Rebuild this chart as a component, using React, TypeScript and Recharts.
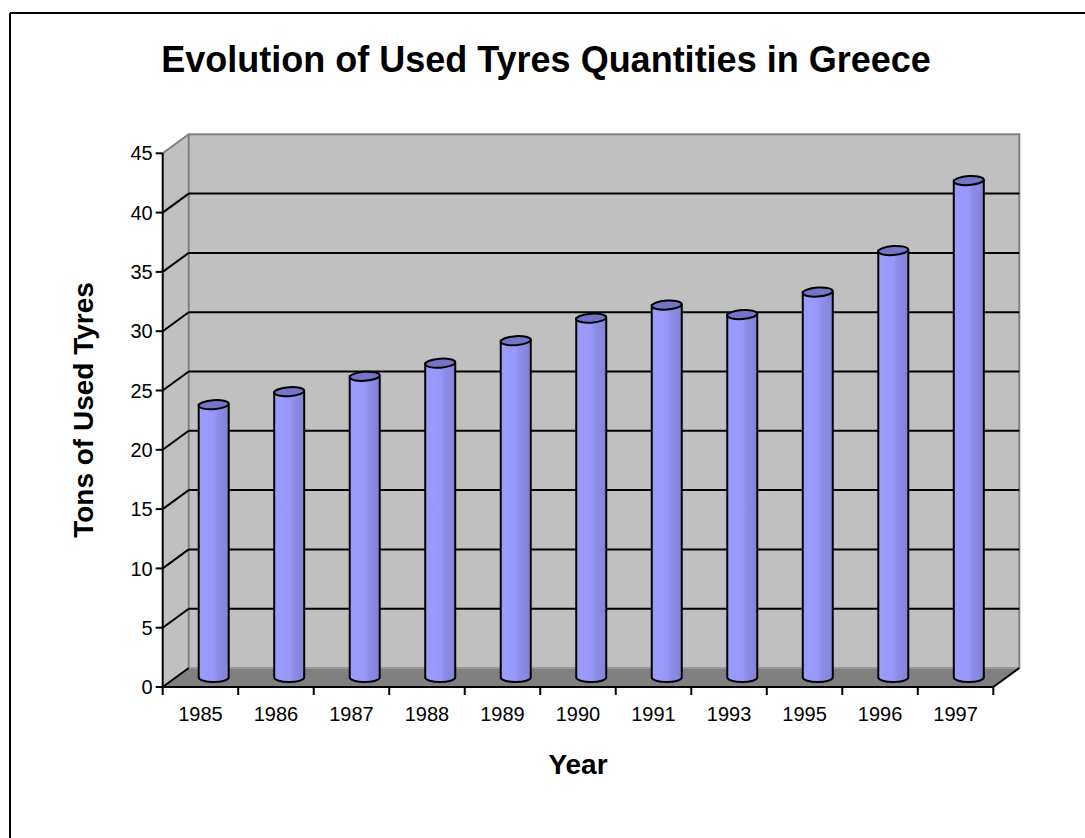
import React from 'react';
import { BarChart, Bar, XAxis, YAxis, ReferenceArea, ReferenceLine } from 'recharts';

const YEARS = ['1985', '1986', '1987', '1988', '1989', '1990', '1991', '1993', '1995', '1996', '1997'];
const TONS = [23, 24.1, 25.4, 26.5, 28.4, 30.3, 31.4, 30.6, 32.5, 36, 41.9];
const Y_TICKS = [0, 5, 10, 15, 20, 25, 30, 35, 40, 45];
const GRID_VALUES = [5, 10, 15, 20, 25, 30, 35, 40];

const FONT = '"Liberation Sans", Arial, sans-serif';
// depth of the 3d box: back wall is shifted right and up from the front plane
const DX = 26;
const DY = -19;

const data = YEARS.map((year, i) => ({ year, tons: TONS[i] }));

// side wall, back wall, floor and the category ticks under the floor edge
const renderWalls = (props: any) => {
  const { x, y, width, height } = props;
  const bottom = y + height;
  const right = x + width;
  const n = YEARS.length;
  return (
    <g>
      <polygon
        points={`${x},${y} ${x + DX},${y + DY} ${x + DX},${bottom + DY} ${x},${bottom}`}
        fill="#c0c0c0"
      />
      <rect x={x + DX} y={y + DY} width={width} height={height} fill="#c0c0c0" stroke="#808080" strokeWidth={2} />
      <polygon
        points={`${x},${bottom} ${x + DX},${bottom + DY} ${right + DX},${bottom + DY} ${right},${bottom}`}
        fill="#808080"
      />
      <line x1={x + DX} y1={bottom + DY} x2={right + DX} y2={bottom + DY} stroke="#a0a0a0" strokeWidth={1.5} />
      <line x1={x} y1={y} x2={x + DX} y2={y + DY} stroke="#808080" strokeWidth={2} />
      <line x1={x} y1={bottom} x2={x + DX} y2={bottom + DY} stroke="#000" strokeWidth={2} />
      <line x1={right} y1={bottom} x2={right + DX} y2={bottom + DY} stroke="#000" strokeWidth={2} />
      <line x1={x} y1={bottom} x2={right} y2={bottom} stroke="#000" strokeWidth={2} />
      {Array.from({ length: n + 1 }, (_, i) => (
        <line
          key={i}
          x1={x + (i * width) / n}
          y1={bottom}
          x2={x + (i * width) / n}
          y2={bottom + 8}
          stroke="#000"
          strokeWidth={2}
        />
      ))}
    </g>
  );
};

// gridline on the back wall plus its diagonal across the side wall
const renderGridLine = (props: any) => {
  const { x1, y1, x2 } = props;
  return (
    <g>
      <line x1={x1} y1={y1} x2={x1 + DX} y2={y1 + DY} stroke="#000" strokeWidth={2} />
      <line x1={x1 + DX} y1={y1 + DY} x2={x2 + DX} y2={y1 + DY} stroke="#000" strokeWidth={2} />
    </g>
  );
};

// cylinder sitting halfway into the depth of the box
const Cylinder = (props: any) => {
  const { x, y, width, height, index } = props;
  if (!height) return null;
  const cx = x + width / 2 + DX / 2;
  const top = y + DY / 2;
  const bottom = y + height + DY / 2;
  const rx = width / 2;
  const ry = 4.5;
  const left = cx - rx;
  const right = cx + rx;
  const gid = `cyl-${index}`;
  return (
    <g>
      <defs>
        <linearGradient id={gid} x1="0" y1="0" x2="1" y2="0">
          <stop offset="0%" stopColor="#9c9cff" />
          <stop offset="50%" stopColor="#9898fa" />
          <stop offset="62%" stopColor="#8e8eea" />
          <stop offset="100%" stopColor="#8282d6" />
        </linearGradient>
      </defs>
      <path
        d={`M${left},${top} L${left},${bottom} A${rx},${ry} 0 0 0 ${right},${bottom} L${right},${top} Z`}
        fill={`url(#${gid})`}
        stroke="#000"
        strokeWidth={2}
      />
      <ellipse
        cx={cx}
        cy={top}
        rx={rx}
        ry={ry}
        transform={`rotate(-4 ${cx} ${top})`}
        fill="#7474c8"
        stroke="#000"
        strokeWidth={2}
      />
    </g>
  );
};

export default function App() {
  return (
    <div style={{ position: 'absolute', left: 0, top: 0, width: 1085, height: 838, background: '#fff' }}>
      <svg width={1085} height={838} style={{ position: 'absolute', left: 0, top: 0 }}>
        <line x1={10} y1={13} x2={1085} y2={13} stroke="#000" strokeWidth={2} />
        <line x1={10} y1={13} x2={10} y2={838} stroke="#000" strokeWidth={2} />
        <text x={546} y={72} textAnchor="middle" fontFamily={FONT} fontSize={36} fontWeight="bold" fill="#000">
          Evolution of Used Tyres Quantities in Greece
        </text>
        <text
          x={93}
          y={410}
          transform="rotate(-90 93 410)"
          textAnchor="middle"
          fontFamily={FONT}
          fontSize={28}
          fontWeight="bold"
          fill="#000"
        >
          Tons of Used Tyres
        </text>
        <text x={578} y={774} textAnchor="middle" fontFamily={FONT} fontSize={28} fontWeight="bold" fill="#000">
          Year
        </text>
      </svg>
      <div style={{ position: 'absolute', left: 0, top: 0 }}>
        <BarChart
          width={1085}
          height={838}
          data={data}
          margin={{ top: 153.3, right: 91.7, bottom: 121, left: 102.7 }}
        >
          <ReferenceArea y1={0} y2={45} shape={renderWalls} zIndex={-20} />
          {GRID_VALUES.map((v) => (
            <ReferenceLine key={v} y={v} shape={renderGridLine} zIndex={-10} />
          ))}
          <XAxis
            dataKey="year"
            interval={0}
            tickLine={false}
            axisLine={false}
            tickSize={0}
            tickMargin={20}
            height={30}
            tick={{ fill: '#000', fontSize: 20, fontFamily: FONT }}
          />
          <YAxis
            type="number"
            domain={[0, 45]}
            ticks={Y_TICKS}
            interval={0}
            width={60}
            tickSize={7}
            tickMargin={3}
            axisLine={{ stroke: '#000', strokeWidth: 2 }}
            tickLine={{ stroke: '#000', strokeWidth: 2 }}
            tick={{ fill: '#000', fontSize: 20, fontFamily: FONT }}
          />
          <Bar dataKey="tons" barSize={30} shape={Cylinder} isAnimationActive={false} />
        </BarChart>
      </div>
    </div>
  );
}
